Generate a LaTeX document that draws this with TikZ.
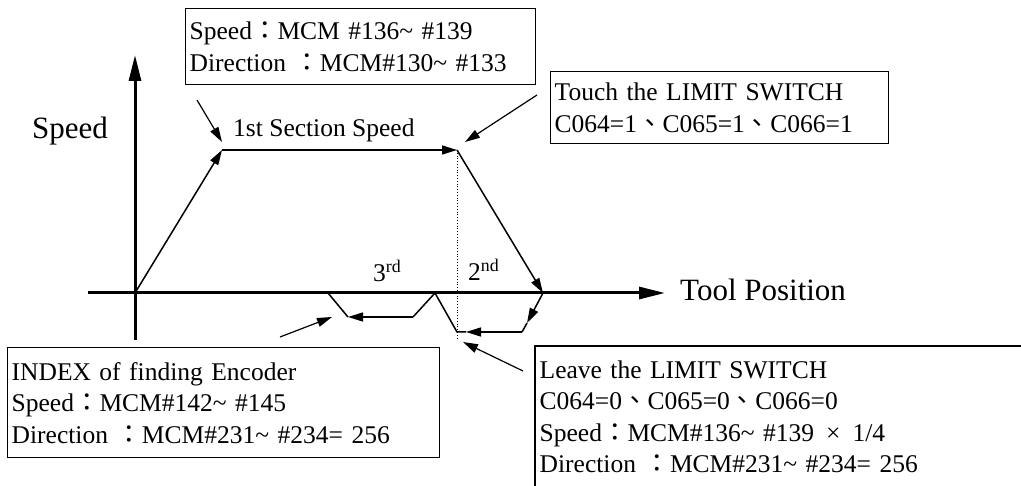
\documentclass[tikz,border=0pt]{standalone}
\usepackage{fontspec}
\setmainfont{Liberation Serif}
\newfontfamily\cjk{Noto Sans CJK TC}
\usetikzlibrary{arrows.meta}
\newcommand{\fcolon}{{\cjk ：}}
\newcommand{\dun}{{\cjk 、}}
\newcommand{\tld}{\textasciitilde}

\begin{document}
\begin{tikzpicture}[
  x=1pt, y=-1pt,
  font=\fontsize{25.5}{31.5}\selectfont,
  axis/.style={line width=3pt, -{Triangle[length=26pt,width=12pt]}},
  curve/.style={line width=1.5pt, -{Triangle[length=15pt,width=9pt]}},
  seg/.style={line width=1.5pt},
  note/.style={line width=1.2pt, -{Triangle[length=15pt,width=9pt]}},
  frame/.style={line width=1.4pt},
  infobox/.style={draw, line width=1.4pt, anchor=north west, align=left,
                  inner xsep=4pt, inner ysep=0pt},
  biglabel/.style={font=\fontsize{31}{36}\selectfont, inner sep=0pt},
  txt/.style={inner sep=0pt},
]
\useasboundingbox (0,0) rectangle (1021,486);

% axes
\coordinate (xs) at (88,293);
\coordinate (xe) at (665,293);
\coordinate (ys) at (135,340);
\coordinate (ye) at (135,55);
\draw[axis] (xs) -- (xe);
\draw[axis] (ys) -- (ye);

% speed profile
\coordinate (O) at (135,293);
\coordinate (A) at (222,150);
\coordinate (B) at (457,150);
\coordinate (C) at (543,293);
\coordinate (Ctip) at (527,323);
\coordinate (D) at (522,332);
\coordinate (Etip) at (466,332);
\coordinate (E) at (457,332);
\coordinate (F) at (435,293);
\coordinate (G) at (413,317);
\coordinate (H) at (348,317);
\coordinate (I) at (328,293);
\coordinate (Bdrop) at (457,340);

\draw[curve] (O) -- (A);
\draw[curve] (A) -- (B);
\draw[curve] (B) -- (C);
\draw[curve] (C) -- (Ctip);
\draw[seg] (Ctip) -- (D);
\draw[curve] (D) -- (Etip);
\draw[seg] (Etip) -- (E) -- (F) -- (G);
\draw[curve] (G) -- (H);
\draw[seg] (H) -- (I);
\draw[dotted, line width=0.8pt] (B) -- (Bdrop);

% labels
\node[biglabel, anchor=base west] (speedlbl) at (32,139) {Speed};
\node[biglabel, anchor=base west] (toollbl) at (680,301) {Tool Position};
\node[txt, anchor=base west] (firstsec) at (233,137) {1st Section Speed};
\node[txt, anchor=base west] (thirdsec) at (373,282) {3\textsuperscript{rd}};
\node[txt, anchor=base west] (secondsec) at (468,281) {2\textsuperscript{nd}};

% boxes
\node[infobox, text width=342, minimum height=76] (spd) at (185,8)
  {\mbox{Speed\fcolon MCM \#136\tld{} \#139}\\
   \mbox{Direction \fcolon MCM\#130\tld{} \#133}};
\node[infobox, text width=330, minimum height=72] (touch) at (550,71)
  {\mbox{Touch the LIMIT SWITCH}\\
   \mbox{C064=1\dun C065=1\dun C066=1}};
\node[infobox, text width=424, minimum height=110] (index) at (7,347)
  {\mbox{INDEX of finding Encoder}\\
   \mbox{Speed\fcolon MCM\#142\tld{} \#145}\\
   \mbox{Direction \fcolon MCM\#231\tld{} \#234= 256}};
\node[infobox, draw=none, text width=478, minimum height=140] (leave) at (535,346)
  {\mbox{Leave the LIMIT SWITCH}\\
   \mbox{C064=0\dun C065=0\dun C066=0}\\
   \mbox{Speed\fcolon MCM\#136\tld{} \#139\hspace{12pt}×\hspace{12pt}1/4}\\
   \mbox{Direction \fcolon MCM\#231\tld{} \#234= 256}};
\draw[frame] (leave.north east) -- (leave.north west) -- (leave.south west);

% pointers
\coordinate (n1s) at (197,100);
\coordinate (n1e) at (222,142);
\coordinate (n2s) at (537,95);
\coordinate (n2e) at (465,142);
\coordinate (n3s) at (280,337);
\coordinate (n3e) at (332,317);
\coordinate (n4s) at (523,371);
\coordinate (n4e) at (463,342);
\draw[note] (n1s) -- (n1e);
\draw[note] (n2s) -- (n2e);
\draw[note] (n3s) -- (n3e);
\draw[note] (n4s) -- (n4e);
\end{tikzpicture}
\end{document}
